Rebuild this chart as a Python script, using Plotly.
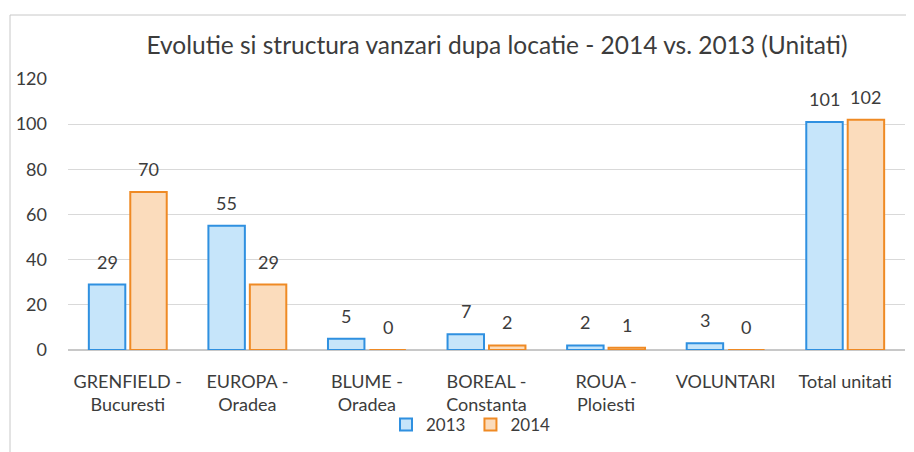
import plotly.graph_objects as go

categories = ["GRENFIELD -<br>Bucuresti", "EUROPA -<br>Oradea", "BLUME -<br>Oradea",
              "BOREAL -<br>Constanta", "ROUA -<br>Ploiesti", "VOLUNTARI", "Total unitati"]
values_2013 = [29, 55, 5, 7, 2, 3, 101]
values_2014 = [70, 29, 0, 2, 1, 0, 102]
series_names = ["2013", "2014"]

FONT = "Lato"
TXT = "#3c3c3c"

# page-pixel geometry (figure is drawn with an 8px body offset)
OFF = 8
W, H = 914 - OFF, 452 - OFF
PL, PR, PT, PB = 68, 905, 79, 350   # plot area in page pixels
L, R, T, B = PL - OFF, 914 - PR, PT - OFF, 452 - PB


def px(x):
    return (x - PL) / (PR - PL)


def py(y):
    return (PB - y) / (PB - PT)


fig = go.Figure()
fig.add_trace(go.Bar(x=categories, y=values_2013, name=series_names[0],
                     marker=dict(color="#c6e5fa", line=dict(color="#2f90e0", width=2))))
fig.add_trace(go.Bar(x=categories, y=values_2014, name=series_names[1],
                     marker=dict(color="#fbdcbc", line=dict(color="#ef8a24", width=2))))

slot_px = (PR - PL) / len(categories) * (1 - 0.307) / 2
annotations = []
for vals, sign in ((values_2013, -1), (values_2014, 1)):
    for c, v in zip(categories, vals):
        annotations.append(dict(x=c, y=v, xref="x", yref="y", text=str(v), showarrow=False,
                                xanchor="center", yanchor="bottom",
                                xshift=sign * slot_px / 2, yshift=10,
                                font=dict(size=18, color=TXT, family=FONT)))

fig.update_layout(
    width=W, height=H,
    margin=dict(l=L, r=R, t=T, b=B),
    paper_bgcolor="white", plot_bgcolor="white",
    barmode="group", bargap=0.307, bargroupgap=0.12,
    font=dict(family=FONT, color=TXT, size=17),
    title=dict(text="Evolutie si structura vanzari dupa locatie - 2014 vs. 2013 (Unitati)",
               x=(497 - OFF) / W, xanchor="center", y=1 - (45 - OFF) / H, yanchor="middle",
               font=dict(size=24.5, color=TXT, family=FONT)),
    legend=dict(orientation="h", x=px(471), xanchor="center", y=py(425), yanchor="middle",
                font=dict(size=17, color=TXT), traceorder="normal",
                bgcolor="rgba(0,0,0,0)"),
    yaxis=dict(range=[0, 120], dtick=20, showgrid=True, gridcolor="#d9d9d9", gridwidth=1,
               zeroline=True, zerolinecolor="#c8c8c8", showline=False,
               tickfont=dict(size=18, color=TXT), ticks="", ticklabelstandoff=20),
    xaxis=dict(showline=False, ticks="", tickfont=dict(size=18, color=TXT), tickangle=0,
               ticklabelstandoff=19),
    annotations=annotations,
    shapes=[dict(type="rect", xref="paper", yref="paper",
                 x0=px(10), x1=px(940), y0=py(480), y1=py(15),
                 line=dict(color="#c8c8c8", width=1), layer="below")],
)

fig.write_html("out.html")
